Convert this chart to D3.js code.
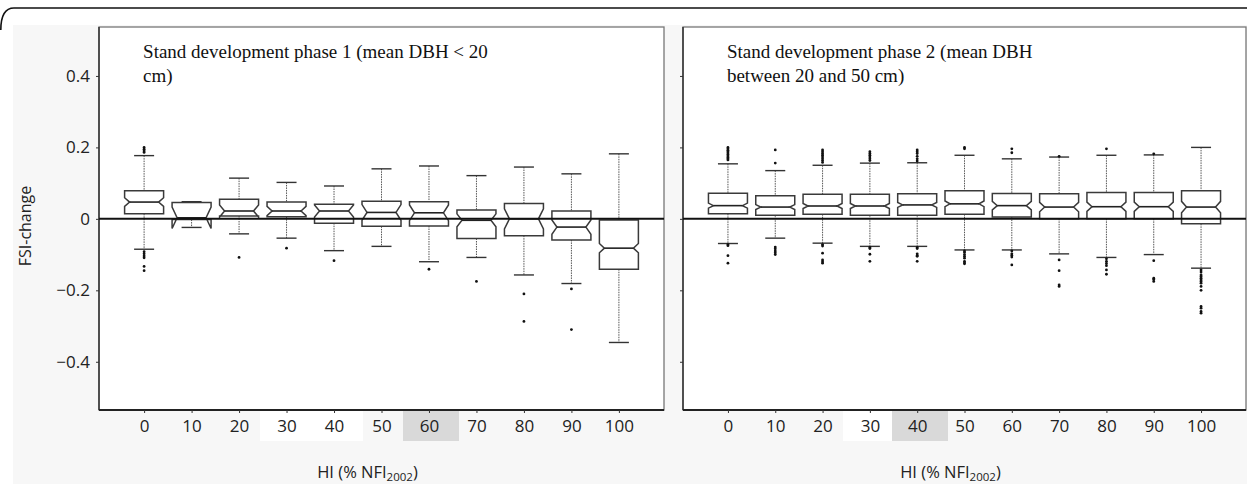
<!DOCTYPE html>
<html>
<head>
<meta charset="utf-8">
<script src="https://cdn.jsdelivr.net/npm/d3@7"></script>
<style>
body { margin: 0; background: #fff; }
svg { display: block; }
.tick text { font-family: "Open Sans", sans-serif; font-size: 17px; fill: #222; }
.tick line { stroke: #333; }
</style>
</head>
<body>
<svg width="1247" height="487"></svg>
<script>
var categories = [0, 10, 20, 30, 40, 50, 60, 70, 80, 90, 100];
var yTicks = [-0.4, -0.2, 0, 0.2, 0.4];

// phase 1 (mean DBH < 20 cm)
var p1Lo    = [-0.085, -0.024, -0.042, -0.054, -0.089, -0.077, -0.120, -0.108, -0.157, -0.181, -0.346];
var p1Q1    = [ 0.014, -0.002,  0.008,  0.006, -0.012, -0.021, -0.020, -0.055, -0.047, -0.059, -0.141];
var p1Med   = [ 0.047,  0.003,  0.022,  0.022,  0.022,  0.018,  0.017, -0.004,  0.000, -0.023, -0.082];
var p1Q3    = [ 0.079,  0.046,  0.055,  0.047,  0.041,  0.049,  0.048,  0.025,  0.043,  0.022, -0.003];
var p1Hi    = [ 0.177,  0.048,  0.114,  0.102,  0.092,  0.140,  0.148,  0.121,  0.145,  0.126,  0.182];
var p1Notch = [ 0.012,  0.030,  0.017,  0.013,  0.017,  0.022,  0.022,  0.018,  0.028,  0.020,  0.013];
var p1Out = [
  [0.200, 0.195, 0.190, 0.186, -0.092, -0.098, -0.104, -0.109, -0.133, -0.145],
  [],
  [-0.108],
  [-0.082],
  [-0.117],
  [],
  [-0.141],
  [-0.175],
  [-0.210, -0.287],
  [-0.196, -0.310],
  []
];

// phase 2 (mean DBH between 20 and 50 cm)
var p2Lo    = [-0.069, -0.054, -0.068, -0.077, -0.077, -0.087, -0.087, -0.098, -0.108, -0.100, -0.138];
var p2Q1    = [ 0.014,  0.010,  0.013,  0.010,  0.010,  0.013,  0.005,  0.000,  0.000,  0.000, -0.014];
var p2Med   = [ 0.037,  0.033,  0.036,  0.036,  0.039,  0.042,  0.037,  0.033,  0.034,  0.034,  0.033];
var p2Q3    = [ 0.072,  0.065,  0.069,  0.069,  0.070,  0.079,  0.071,  0.070,  0.074,  0.074,  0.079];
var p2Hi    = [ 0.154,  0.135,  0.150,  0.156,  0.157,  0.178,  0.168,  0.173,  0.178,  0.179,  0.200];
var p2Notch = [ 0.007,  0.007,  0.007,  0.007,  0.007,  0.008,  0.012,  0.013,  0.013,  0.013,  0.016];
var p2Out = [
  [0.200, 0.196, 0.192, 0.188, 0.184, 0.180, 0.176, 0.172, 0.168, 0.165, -0.072, -0.075, -0.103, -0.124],
  [0.193, 0.156, -0.079, -0.084, -0.090, -0.095, -0.100],
  [0.193, 0.188, 0.183, 0.178, 0.173, 0.168, 0.163, 0.158, -0.072, -0.076, -0.096, -0.115, -0.120, -0.124],
  [0.188, 0.183, 0.178, 0.173, 0.168, 0.163, -0.080, -0.083, -0.099, -0.119],
  [0.193, 0.188, 0.183, 0.175, 0.168, 0.162, -0.080, -0.083, -0.098, -0.102, -0.105, -0.119],
  [0.200, 0.196, -0.090, -0.094, -0.100, -0.105, -0.110, -0.119, -0.123, -0.126],
  [0.196, 0.185, -0.090, -0.098, -0.102, -0.107, -0.129],
  [0.175, -0.115, -0.145, -0.185, -0.189],
  [0.196, -0.112, -0.119, -0.125, -0.131, -0.143, -0.155],
  [0.182, -0.117, -0.166, -0.170, -0.175],
  [-0.143, -0.149, -0.157, -0.161, -0.166, -0.171, -0.175, -0.180, -0.189, -0.200, -0.245, -0.250, -0.259, -0.264]
];

var titles = [
  ["Stand development phase 1 (mean DBH < 20", "cm)"],
  ["Stand development phase 2 (mean DBH", "between 20 and 50 cm)"]
];

var svg = d3.select("svg");
var plotTop = 27, plotBottom = 410;

// background
svg.append("rect").attr("x", 13).attr("y", 25).attr("width", 1234).attr("height", 459).attr("fill", "#f7f7f7");
svg.append("path").attr("d", "M0.8,30 Q0.8,8 14,8 L1247,8").attr("fill", "none").attr("stroke", "#111").attr("stroke-width", 1.6);

// label highlight patches (as in the scan)
svg.append("rect").attr("x", 260).attr("y", 411).attr("width", 103).attr("height", 30).attr("fill", "#fff");
svg.append("rect").attr("x", 403).attr("y", 411).attr("width", 56).attr("height", 30).attr("fill", "#d9d9d9");
svg.append("rect").attr("x", 843).attr("y", 411).attr("width", 49).attr("height", 30).attr("fill", "#fff");
svg.append("rect").attr("x", 892).attr("y", 411).attr("width", 56).attr("height", 30).attr("fill", "#d9d9d9");

var y = d3.scaleLinear().domain([-0.535, 0.537]).range([plotBottom, plotTop]);

var panels = [
  {x0: 99, x1: 664, lo: p1Lo, q1: p1Q1, med: p1Med, q3: p1Q3, hi: p1Hi, notch: p1Notch, out: p1Out},
  {x0: 683, x1: 1246, lo: p2Lo, q1: p2Q1, med: p2Med, q3: p2Q3, hi: p2Hi, notch: p2Notch, out: p2Out}
];

panels.forEach(function (p, pi) {
  var x = d3.scalePoint().domain(categories).range([p.x0, p.x1]).padding(0.95);
  var g = svg.append("g");

  g.append("rect").attr("x", p.x0).attr("y", plotTop).attr("width", p.x1 - p.x0).attr("height", plotBottom - plotTop)
    .attr("fill", "#fff").attr("stroke", "#777").attr("stroke-width", 1.3);
  g.append("line").attr("x1", p.x0).attr("x2", p.x0).attr("y1", plotTop).attr("y2", plotBottom).attr("stroke", "#333").attr("stroke-width", 1.5);
  g.append("line").attr("x1", p.x0).attr("x2", p.x1).attr("y1", plotBottom).attr("y2", plotBottom).attr("stroke", "#222").attr("stroke-width", 1.8);

  var yAxis = g.append("g").attr("transform", "translate(" + p.x0 + ",0)")
    .call(d3.axisLeft(y).tickValues(yTicks).tickSize(3).tickPadding(6)
      .tickFormat(function (d) { return pi === 0 ? (d === 0 ? "0" : d3.format(".1f")(d)) : ""; }));
  yAxis.select(".domain").remove();

  var xAxis = g.append("g").attr("transform", "translate(0," + plotBottom + ")")
    .call(d3.axisBottom(x).tickSize(3).tickPadding(7));
  xAxis.select(".domain").remove();

  // title inside panel
  g.append("text").attr("x", x(0) - 1).attr("y", 58)
    .attr("font-family", "Liberation Serif, serif").attr("font-size", 19).attr("fill", "#111")
    .selectAll("tspan").data(titles[pi]).enter().append("tspan")
    .attr("x", x(0) - 1).attr("dy", function (d, i) { return i ? 24 : 0; })
    .text(function (d) { return d; });

  var hw = 19.5, ind = 5, cw = 10;
  var boxes = g.selectAll(".box").data(categories).enter().append("g").attr("class", "box");

  // whiskers
  boxes.append("line").attr("x1", function (d) { return x(d); }).attr("x2", function (d) { return x(d); })
    .attr("y1", function (d, i) { return y(p.hi[i]); }).attr("y2", function (d, i) { return y(p.q3[i]); })
    .attr("stroke", "#555").attr("stroke-width", 1).attr("stroke-dasharray", "1.5,1");
  boxes.append("line").attr("x1", function (d) { return x(d); }).attr("x2", function (d) { return x(d); })
    .attr("y1", function (d, i) { return y(p.q1[i]); }).attr("y2", function (d, i) { return y(p.lo[i]); })
    .attr("stroke", "#555").attr("stroke-width", 1).attr("stroke-dasharray", "1.5,1");
  boxes.append("line").attr("x1", function (d) { return x(d) - cw; }).attr("x2", function (d) { return x(d) + cw; })
    .attr("y1", function (d, i) { return y(p.hi[i]); }).attr("y2", function (d, i) { return y(p.hi[i]); })
    .attr("stroke", "#333").attr("stroke-width", 1.4);
  boxes.append("line").attr("x1", function (d) { return x(d) - cw; }).attr("x2", function (d) { return x(d) + cw; })
    .attr("y1", function (d, i) { return y(p.lo[i]); }).attr("y2", function (d, i) { return y(p.lo[i]); })
    .attr("stroke", "#333").attr("stroke-width", 1.4);

  // notched box
  boxes.append("path")
    .attr("d", function (d, i) {
      var cx = x(d), l = cx - hw, r = cx + hw;
      var q3 = y(p.q3[i]), q1 = y(p.q1[i]), m = y(p.med[i]);
      var nh = y(p.med[i] + p.notch[i]), nl = y(p.med[i] - p.notch[i]);
      return "M" + l + "," + q3 + "L" + l + "," + nh + "L" + (l + ind) + "," + m + "L" + l + "," + nl +
        "L" + l + "," + q1 + "L" + r + "," + q1 + "L" + r + "," + nl + "L" + (r - ind) + "," + m +
        "L" + r + "," + nh + "L" + r + "," + q3 + "Z";
    })
    .attr("fill", "#fff").attr("stroke", "#3a3a3a").attr("stroke-width", 1.5);
  boxes.append("line").attr("x1", function (d) { return x(d) - hw + ind; }).attr("x2", function (d) { return x(d) + hw - ind; })
    .attr("y1", function (d, i) { return y(p.med[i]); }).attr("y2", function (d, i) { return y(p.med[i]); })
    .attr("stroke", "#222").attr("stroke-width", 1.6);

  // outliers
  boxes.selectAll("circle").data(function (d, i) { return p.out[i].map(function (v) { return {c: d, v: v}; }); })
    .enter().append("circle")
    .attr("cx", function (d) { return x(d.c); }).attr("cy", function (d) { return y(d.v); })
    .attr("r", 1.4).attr("fill", "#111");

  // zero line
  g.append("line").attr("x1", p.x0).attr("x2", p.x1).attr("y1", y(0)).attr("y2", y(0))
    .attr("stroke", "#111").attr("stroke-width", 2);

  // x title
  var xt = g.append("text").attr("x", (p.x0 + p.x1) / 2 - 14).attr("y", 478)
    .attr("text-anchor", "middle").attr("font-family", "Open Sans, sans-serif").attr("font-size", 16.5).attr("fill", "#222");
  xt.append("tspan").text("HI (% NFI");
  xt.append("tspan").attr("font-size", 11.5).attr("dy", 3).text("2002");
  xt.append("tspan").attr("dy", -3).text(")");
});

svg.append("text").attr("transform", "translate(31,226) rotate(-90)")
  .attr("text-anchor", "middle").attr("font-family", "Open Sans, sans-serif").attr("font-size", 16).attr("fill", "#222")
  .text("FSI-change");
</script>
</body>
</html>
